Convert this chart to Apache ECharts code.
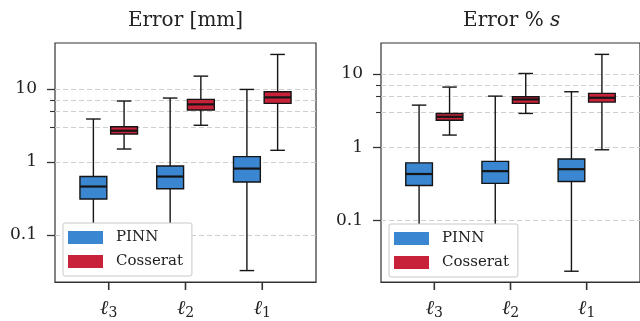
<!DOCTYPE html>
<html>
<head>
<meta charset="utf-8">
<script src="https://cdn.jsdelivr.net/npm/echarts@6/dist/echarts.min.js"></script>
<style>html,body{margin:0;padding:0;background:#fff}#c{width:640px;height:321px}</style>
</head>
<body>
<div id="c"></div>
<script>
// ---- data ----
const categories = ['ℓ3', 'ℓ2', 'ℓ1'];
const seriesNames = ['PINN', 'Cosserat'];
// each entry: [min, q1, median, q3, max]
const pinnMm = [[0.04, 0.31, 0.46, 0.63, 3.86], [0.04, 0.43, 0.63, 0.88, 7.47], [0.0326, 0.53, 0.81, 1.18, 9.8]];
const cossMm = [[1.50, 2.41, 2.67, 3.03, 6.8], [3.17, 5.12, 6.12, 7.17, 14.9], [1.44, 6.31, 7.63, 9.1, 29.5]];
const pinnPct = [[0.03, 0.30, 0.43, 0.61, 3.74], [0.03, 0.32, 0.47, 0.64, 4.96], [0.0203, 0.34, 0.50, 0.69, 5.69]];
const cossPct = [[1.46, 2.33, 2.59, 2.88, 6.59], [2.88, 3.95, 4.47, 4.86, 10.1], [0.92, 4.11, 4.71, 5.4, 18.4]];
const majorTicks = [0.1, 1, 10];
const minorTicks = [3, 5, 7];
const xTicks = [1, 2, 3];

// ---- style ----
const FONT = 'DejaVu Serif';
const INK = '#151515';
const COLORS = ['#3A86D0', '#C8223A'];
const OFFSETS = [-0.2, 0.2];
const BOX_W = 0.35, CAP_W = 0.19;

function renderBox(offsetIdx) {
  return function (params, api) {
    const x = api.value(0);
    const lo = api.coord([x, api.value(1)]);
    const q1 = api.coord([x, api.value(2)]);
    const md = api.coord([x, api.value(3)]);
    const q3 = api.coord([x, api.value(4)]);
    const hi = api.coord([x, api.value(5)]);
    const cx = q1[0];
    const bl = api.coord([x - BOX_W / 2, api.value(3)])[0];
    const br = api.coord([x + BOX_W / 2, api.value(3)])[0];
    const cl = api.coord([x - CAP_W / 2, api.value(3)])[0];
    const cr = api.coord([x + CAP_W / 2, api.value(3)])[0];
    const ls = { stroke: INK, lineWidth: 1.4 };
    return {
      type: 'group',
      children: [
        { type: 'line', shape: { x1: cx, y1: q3[1], x2: cx, y2: hi[1] }, style: ls },
        { type: 'line', shape: { x1: cx, y1: q1[1], x2: cx, y2: lo[1] }, style: ls },
        { type: 'line', shape: { x1: cl, y1: hi[1], x2: cr, y2: hi[1] }, style: ls },
        { type: 'line', shape: { x1: cl, y1: lo[1], x2: cr, y2: lo[1] }, style: ls },
        { type: 'rect', shape: { x: bl, y: q3[1], width: br - bl, height: q1[1] - q3[1] },
          style: { fill: COLORS[offsetIdx], stroke: INK, lineWidth: 1.4 } },
        { type: 'line', shape: { x1: bl, y1: md[1], x2: br, y2: md[1] }, style: { stroke: INK, lineWidth: 2.2 } }
      ]
    };
  };
}

function renderXTick(params, api) {
  const p = api.coord([api.value(0), api.value(1)]);
  return { type: 'line', shape: { x1: p[0], y1: p[1], x2: p[0], y2: p[1] + 8 }, style: { stroke: '#333', lineWidth: 1.6 } };
}

function buildData(vals, offsetIdx) {
  return vals.map((v, i) => [i + 1 + OFFSETS[offsetIdx]].concat(v));
}

const grids = [
  { left: 55, top: 43, width: 261, height: 239 },
  { left: 381, top: 43, width: 261, height: 239 }
];
const yRanges = [[0.02275, 42.3], [0.01447, 26.3]];
const legendPos = [{ left: 63, top: 223 }, { left: 389, top: 224 }];
const panelData = [[pinnMm, cossMm], [pinnPct, cossPct]];

const boxSeries = [].concat(...panelData.map((pd, gi) => pd.map((vals, si) => ({
  type: 'custom', name: seriesNames[si],
  xAxisIndex: gi, yAxisIndex: gi * 2,
  itemStyle: { color: COLORS[si] },
  encode: { x: 0, y: [1, 2, 3, 4, 5] },
  renderItem: renderBox(si),
  data: buildData(vals, si),
  z: 3
}))));
const tickSeries = grids.map((g, gi) => ({
  type: 'custom', name: 'xtick' + gi, xAxisIndex: gi, yAxisIndex: gi * 2, clip: false, silent: true,
  encode: { x: 0, y: 1 }, renderItem: renderXTick,
  data: xTicks.map(v => [v, yRanges[gi][0]]), z: 6
}));

const option = {
  animation: false,
  backgroundColor: '#fff',
  textStyle: { fontFamily: FONT },
  grid: grids.map(g => Object.assign({ show: true, borderColor: '#333', borderWidth: 1.2, backgroundColor: 'transparent' }, g)),
  xAxis: grids.map((g, gi) => ({
    type: 'value', gridIndex: gi, min: 0.3, max: 3.7,
    axisLine: { show: true, lineStyle: { color: '#333', width: 1.2 } },
    splitLine: { show: false },
    axisTick: { show: false },
    axisLabel: {
      customValues: xTicks, margin: 16,
      formatter: v => { const c = categories[Math.round(v) - 1] || ''; return '{l|' + c.charAt(0) + '}{s|' + c.slice(1) + '}'; },
      rich: {
        l: { fontFamily: FONT, fontSize: 20, fontStyle: 'italic', color: '#222', lineHeight: 22 },
        s: { fontFamily: FONT, fontSize: 14, color: '#222', verticalAlign: 'bottom', lineHeight: 14 }
      }
    }
  })),
  yAxis: [].concat(...grids.map((g, gi) => [
    {
      type: 'log', logBase: 10, gridIndex: gi, min: yRanges[gi][0], max: yRanges[gi][1], position: 'left',
      axisLine: { show: false },
      axisTick: { show: true, length: 8, customValues: majorTicks, lineStyle: { color: '#333', width: 1.3 } },
      axisLabel: { customValues: majorTicks, margin: 18, fontFamily: FONT, fontSize: 17, color: '#222',
        formatter: v => String(+v.toPrecision(3)) },
      splitLine: { show: true, lineStyle: { color: '#cfcfcf', type: [5, 3], width: 1 } }
    },
    {
      type: 'log', logBase: 10, gridIndex: gi, min: yRanges[gi][0], max: yRanges[gi][1], position: 'left', offset: 0,
      axisLine: { show: false },
      axisTick: { show: true, length: 5, customValues: minorTicks, lineStyle: { color: '#333', width: 1.1 } },
      axisLabel: { show: false },
      splitLine: { show: true, lineStyle: { color: '#cfcfcf', type: [5, 3], width: 1 } }
    }
  ])),
  legend: legendPos.map(p => ({
    left: p.left, top: p.top, orient: 'vertical',
    data: seriesNames, icon: 'rect', itemWidth: 35, itemHeight: 13, itemGap: 9,
    padding: [7, 9, 7, 5],
    backgroundColor: '#fff', borderColor: '#c8c8c8', borderWidth: 1, borderRadius: 2,
    selectedMode: false,
    itemStyle: { borderWidth: 0 },
    textStyle: { fontFamily: FONT, fontSize: 15, color: '#222', padding: [0, 0, 0, 8] }
  })),
  graphic: [
    { type: 'text', x: 185.5, y: 21, style: { text: 'Error [mm]', font: '20px "DejaVu Serif"', fill: '#222', align: 'center', verticalAlign: 'middle' } },
    { type: 'text', x: 511.7, y: 21, style: {
      text: '{r|Error % }{i|s}', align: 'center', verticalAlign: 'middle',
      rich: { r: { fontFamily: FONT, fontSize: 20, fill: '#222' }, i: { fontFamily: FONT, fontSize: 20, fontStyle: 'italic', fill: '#222' } }
    } }
  ],
  series: boxSeries.concat(tickSeries)
};

const chart = echarts.init(document.getElementById('c'), null, { renderer: 'canvas' });
chart.setOption(option);
</script>
</body>
</html>
